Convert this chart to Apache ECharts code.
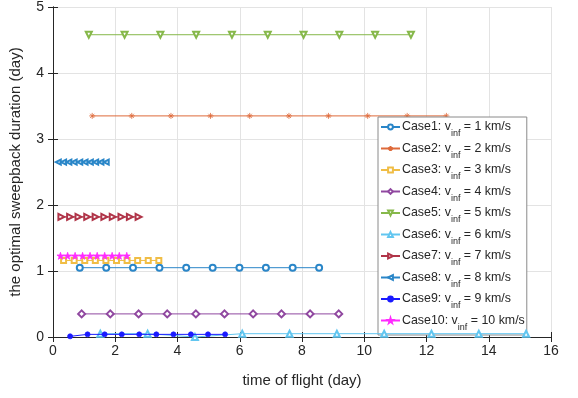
<!DOCTYPE html>
<html>
<head>
<meta charset="utf-8">
<script src="https://cdn.jsdelivr.net/npm/echarts@6/dist/echarts.min.js"></script>
<style>
  html, body { margin: 0; padding: 0; background: #fff; }
  #chart { width: 578px; height: 398px; }
</style>
</head>
<body>
<div id="chart"></div>
<script>
// Time of flight (day) for each case
const tof1  = [0.86, 1.71, 2.57, 3.42, 4.28, 5.13, 5.99, 6.84, 7.70, 8.55];
const tof2  = [1.26, 2.53, 3.79, 5.06, 6.32, 7.58, 8.85, 10.11, 11.38, 12.64];
const tof3  = [0.34, 0.68, 1.02, 1.36, 1.70, 2.04, 2.38, 2.72, 3.06, 3.40];
const tof4  = [0.92, 1.84, 2.75, 3.67, 4.59, 5.51, 6.43, 7.34, 8.26, 9.18];
const tof5  = [1.15, 2.30, 3.45, 4.60, 5.75, 6.90, 8.05, 9.20, 10.35, 11.50];
const tof6  = [1.52, 3.04, 4.56, 6.08, 7.60, 9.12, 10.64, 12.16, 13.68, 15.20];
const tof7  = [0.27, 0.55, 0.82, 1.10, 1.37, 1.65, 1.92, 2.20, 2.47, 2.75];
const tof8  = [0.17, 0.34, 0.51, 0.68, 0.86, 1.03, 1.20, 1.37, 1.54, 1.71];
const tof9  = [0.55, 1.11, 1.66, 2.21, 2.77, 3.32, 3.87, 4.43, 4.98, 5.53];
const tof10 = [0.24, 0.47, 0.71, 0.95, 1.19, 1.42, 1.66, 1.90, 2.13, 2.37];

// Optimal sweepback duration (day) for each case
const dur1  = [1.05, 1.05, 1.05, 1.05, 1.05, 1.05, 1.05, 1.05, 1.05, 1.05];
const dur2  = [3.35, 3.35, 3.35, 3.35, 3.35, 3.35, 3.35, 3.35, 3.35, 3.35];
const dur3  = [1.16, 1.16, 1.16, 1.16, 1.16, 1.16, 1.16, 1.16, 1.16, 1.16];
const dur4  = [0.35, 0.35, 0.35, 0.35, 0.35, 0.35, 0.35, 0.35, 0.35, 0.35];
const dur5  = [4.58, 4.58, 4.58, 4.58, 4.58, 4.58, 4.58, 4.58, 4.58, 4.58];
const dur6  = [0.05, 0.05, 0.0, 0.05, 0.05, 0.05, 0.05, 0.05, 0.05, 0.05];
const dur7  = [1.82, 1.82, 1.82, 1.82, 1.82, 1.82, 1.82, 1.82, 1.82, 1.82];
const dur8  = [2.65, 2.65, 2.65, 2.65, 2.65, 2.65, 2.65, 2.65, 2.65, 2.65];
const dur9  = [0.01, 0.04, 0.04, 0.04, 0.04, 0.04, 0.04, 0.04, 0.04, 0.04];
const dur10 = [1.23, 1.23, 1.23, 1.23, 1.23, 1.23, 1.23, 1.23, 1.23, 1.23];

const caseNames = ['Case1', 'Case2', 'Case3', 'Case4', 'Case5', 'Case6', 'Case7', 'Case8', 'Case9', 'Case10'];
const vinf = [1, 2, 3, 4, 5, 6, 7, 8, 9, 10];
const xTicks = [0, 2, 4, 6, 8, 10, 12, 14, 16];
const yTicks = [0, 1, 2, 3, 4, 5];

const tofs = [tof1, tof2, tof3, tof4, tof5, tof6, tof7, tof8, tof9, tof10];
const durs = [dur1, dur2, dur3, dur4, dur5, dur6, dur7, dur8, dur9, dur10];

const colors = ['#2a86c8', '#de6a3a', '#f0bd45', '#9048a0', '#86b84a',
                '#62c6f0', '#b03448', '#2a86c8', '#1a1aff', '#ff2aff'];

const asterisk = 'path://M10,0 L10,20 M0,10 L20,10 M3,3 L17,17 M3,17 L17,3';
const star = 'path://M50,0 L61,35 L98,35 L68,57 L79,91 L50,70 L21,91 L32,57 L2,35 L39,35 Z';

// marker style per case: [symbol, rotate, size]
const markers = [
  ['emptyCircle', 0, 6],
  [asterisk, 0, 6],
  ['emptyRect', 0, 5],
  ['emptyDiamond', 0, 7],
  ['emptyTriangle', 180, 6],
  ['emptyTriangle', 0, 6],
  ['emptyTriangle', -90, 6],
  ['emptyTriangle', 90, 5],
  ['circle', 0, 5],
  [star, 0, 7]
];

const series = caseNames.map((name, i) => ({
  name: name,
  type: 'line',
  data: tofs[i].map((t, j) => [t, durs[i][j]]),
  symbol: markers[i][0],
  symbolRotate: markers[i][1],
  symbolSize: markers[i][2],
  showAllSymbol: true,
  clip: false,
  lineStyle: { color: colors[i], width: 1 },
  itemStyle: {
    color: colors[i],
    borderColor: colors[i],
    borderWidth: 0.8
  },
  emphasis: { disabled: true },
  z: 2 + i
}));

const legendData = caseNames.map(n => ({ name: n }));

const fontStack = 'Liberation Sans, Arial, sans-serif';

const chart = echarts.init(document.getElementById('chart'), null, { renderer: 'canvas' });
chart.setOption({
  animation: false,
  backgroundColor: '#fff',
  grid: { left: 51, right: 27, top: 3, bottom: 61, containLabel: false },
  legend: {
    orient: 'vertical',
    left: 378,
    top: 117,
    data: legendData,
    backgroundColor: '#fff',
    borderColor: '#8a8a8a',
    borderWidth: 1,
    padding: [4, 2, 3, 2],
    itemGap: 4,
    itemWidth: 19,
    itemHeight: 6,
    selectedMode: false,
    formatter: function (name) {
      const i = caseNames.indexOf(name);
      return '{m|' + name + ': v}{s|inf}{m| = ' + vinf[i] + ' km/s}';
    },
    textStyle: {
      fontFamily: fontStack,
      color: '#262626',
      padding: [0, 0, 0, -3],
      rich: {
        m: { fontSize: 12.4, fontFamily: fontStack, color: '#262626', lineHeight: 15, verticalAlign: 'middle' },
        s: { fontSize: 9, fontFamily: fontStack, color: '#262626', lineHeight: 15, verticalAlign: 'bottom', padding: [0, 0, -4, 0] }
      }
    }
  },
  xAxis: [
    {
      type: 'value', min: 0, max: 16, interval: 2,
      name: 'time of flight (day)', nameLocation: 'middle', nameGap: 36,
      nameTextStyle: { fontSize: 15, color: '#262626', fontFamily: fontStack },
      axisLine: { show: true, lineStyle: { color: '#262626', width: 1 } },
      axisTick: { show: true, inside: true, length: 5, lineStyle: { color: '#262626' } },
      axisLabel: { fontSize: 14, color: '#262626', margin: 7, fontFamily: fontStack,
                   formatter: v => (xTicks.indexOf(v) >= 0 ? String(v) : '') },
      splitLine: { show: true, lineStyle: { color: '#e3e3e3', width: 1 } }
    },
    {
      type: 'value', min: 0, max: 16, interval: 2, position: 'top',
      axisLine: { show: true, lineStyle: { color: '#262626', width: 1 } },
      axisTick: { show: true, inside: true, length: 5, lineStyle: { color: '#262626' } },
      axisLabel: { show: false },
      splitLine: { show: false }
    }
  ],
  yAxis: [
    {
      type: 'value', min: 0, max: 5, interval: 1,
      name: 'the optimal sweepback duration (day)', nameLocation: 'middle', nameGap: 30,
      nameTextStyle: { fontSize: 15, color: '#262626', fontFamily: fontStack },
      axisLine: { show: true, lineStyle: { color: '#262626', width: 1 } },
      axisTick: { show: true, inside: true, length: 5, lineStyle: { color: '#262626' } },
      axisLabel: { fontSize: 14, color: '#262626', margin: 9, fontFamily: fontStack,
                   formatter: v => (yTicks.indexOf(v) >= 0 ? String(v) : '') },
      splitLine: { show: true, lineStyle: { color: '#e3e3e3', width: 1 } }
    },
    {
      type: 'value', min: 0, max: 5, interval: 1, position: 'right',
      axisLine: { show: true, lineStyle: { color: '#262626', width: 1 } },
      axisTick: { show: true, inside: true, length: 5, lineStyle: { color: '#262626' } },
      axisLabel: { show: false },
      splitLine: { show: false }
    }
  ],
  series: series
});
</script>
</body>
</html>
